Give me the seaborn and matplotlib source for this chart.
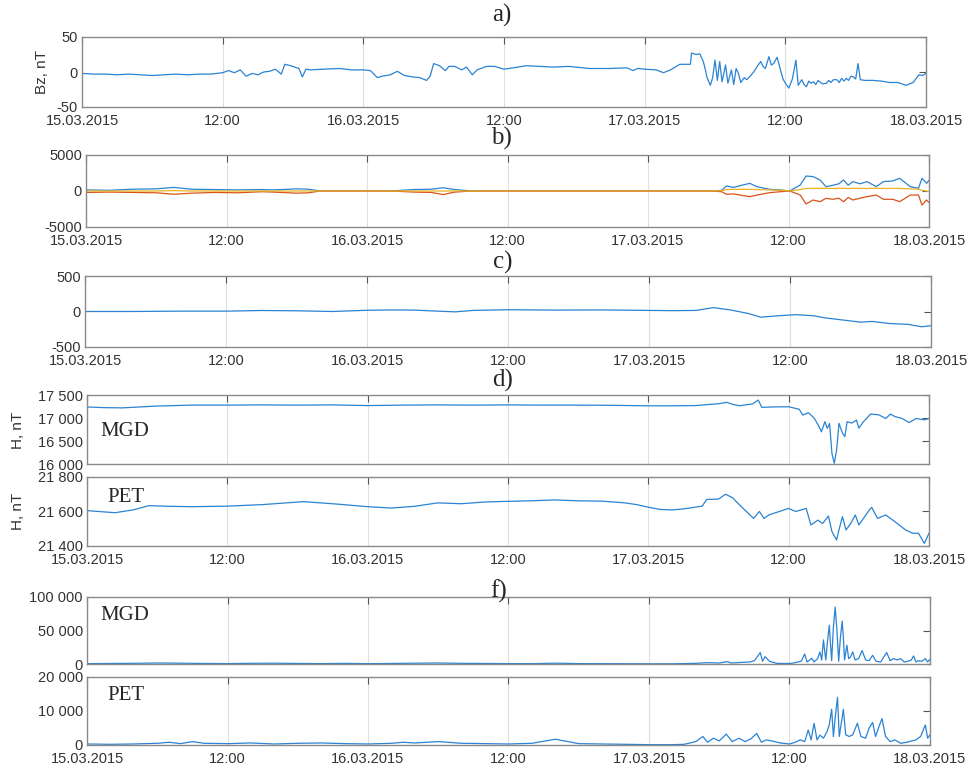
import numpy as np
import pandas as pd
import seaborn as sns
import matplotlib.pyplot as plt

# time axis: hours since 15.03.2015 00:00
tick_hours = [0, 12, 24, 36, 48, 60, 72]
tick_labels = ['15.03.2015', '12:00', '16.03.2015', '12:00', '17.03.2015', '12:00', '18.03.2015']

# a) Bz, nT
bz_hours = [0, 1, 2, 3, 4, 5, 6, 7, 8, 9,
            10, 11, 12, 12.5, 13, 13.5, 14, 14.5, 15, 15.5,
            16, 16.5, 17, 17.3, 17.8, 18.5, 18.8, 19.1, 19.5, 20.5,
            22, 23, 24, 24.6, 25.2, 25.6, 26.3, 26.9, 27.5, 28.2,
            28.8, 29.4, 29.7, 30.0, 30.5, 31.0, 31.3, 31.8, 32.4, 32.8,
            33.3, 33.7, 34.5, 35.2, 36, 36.8, 37.9, 39, 40.2, 41.5,
            43.3, 45, 46.5, 47, 47.4, 48, 49.0, 49.6, 50.2,
            51.0, 51.9, 52.0, 52.4, 52.7, 53.0, 53.2, 53.3, 53.6, 53.8,
            54.0, 54.2, 54.4, 54.6, 54.9, 55.1, 55.4, 55.6, 55.8, 56.0,
            56.2, 56.5, 56.7, 57.0, 57.3, 57.6, 57.9, 58.1, 58.3, 58.6,
            58.8, 59.0, 59.3, 59.5, 59.6, 59.8, 60.0, 60.3, 60.6, 60.9,
            61.1, 61.4, 61.6, 61.8, 62.0, 62.2, 62.4, 62.6, 62.8, 63.0,
            63.2, 63.5, 63.7, 63.9, 64.1, 64.4, 64.6, 64.8, 65.0, 65.2,
            65.4, 65.6, 65.8, 66.0, 66.2, 66.4, 66.8, 67.5, 68.2, 68.9,
            69.6, 70.3, 70.9, 71.4, 71.7, 72]
bz_values = [-2, -3, -3, -4, -3, -4, -5, -4, -3, -4,
             -3, -3, -1, 2, -1, 3, -6, -2, -4, 0,
             1, 4, -3, 11, 9, 5, -7, 4, 3, 4,
             5, 3, 3, 2, -8, -6, -4, 1, -5, -7,
             -8, -12, -6, 12, 9, 2, 8, 8, 3, 7,
             -4, 3, 8, 8, 4, 6, 9, 8, 7, 8,
             5, 5, 6, 2, 5, 4, 3, -1, 3,
             11, 11, 27, 25, 26, 15, 2, -7, -19, -8,
             17, -12, 15, -14, 10, -16, 3, -18, 5, -2,
             -15, -8, -11, -6, 0, 8, 15, 8, 5, 22,
             10, 12, 21, 8, 2, -10, -16, -23, -10, 17,
             -19, -11, -18, -21, -13, -16, -14, -18, -12, -15,
             -17, -16, -12, -15, -11, -11, -15, -9, -13, -9,
             -12, -6, -7, -10, 12, -11, -12, -12, -13, -15,
             -15, -19, -15, -4, -5, -2]

# b) three components
b_hours = [0, 2, 4, 6, 7.5, 9, 11, 13, 15, 16,
           18, 19, 20, 22, 24, 26, 28, 29.5, 30.5, 31.5,
           33, 36, 40, 44, 48, 50,
           52, 53.5, 54.3, 54.7, 55.3, 56.0, 56.7, 57.3, 58.4, 59.3,
           60.1, 61.0, 61.5, 62.1, 62.7, 63.2, 63.8, 64.3, 64.7, 65.1,
           65.5, 66.1, 66.7, 67.5, 68.1, 68.9, 69.5, 70.4, 71.1, 71.4,
           71.8, 72]
b_blue = [150, 100, 250, 300, 500, 250, 200, 150, 200, 150,
          300, 250, 0, 0, 0, 0, 200, 250, 450, 200,
          0, 0, 0, 0, 0, 0,
          0, 0, 100, 700, 500, 800, 1060, 600, 230, 150,
          0, 830, 2080, 2000, 1530, 600, 800, 1000, 1530, 800,
          1300, 1000, 1300, 600, 1300, 1400, 1760, 600, 370, 1760,
          1060, 1500]
b_red = [-200, -150, -200, -250, -450, -300, -200, -250, -100, -150,
         -300, -250, 0, 0, 0, 0, -150, -200, -500, -150,
         0, 0, 0, 0, 0, 0,
         0, 0, -100, -460, -400, -600, -790, -560, -230, -100,
         0, -560, -1800, -1250, -1480, -1020, -1150, -1000, -1480, -900,
         -1250, -1000, -790, -560, -1150, -1150, -1480, -560, -560, -1950,
         -1250, -1600]
b_yellow = [0, 0, 0, 0, 50, 0, 0, 0, 0, 0,
            0, 0, 0, 0, 0, 0, 0, 0, 0, 0,
            0, 0, 0, 0, 0, 0,
            0, 0, 50, 200, 230, 230, 230, 200, 150, 100,
            0, 200, 350, 370, 350, 370, 350, 380, 370, 350,
            370, 360, 350, 370, 350, 370, 360, 300, 250, 100,
            0, -100]

# c)
c_hours = [0, 4, 8, 12, 15, 18, 21, 24, 26, 28,
           30, 31.5, 33, 36, 40, 44, 48, 50, 52, 53.5,
           55, 56.5, 57.5, 59, 60.5, 62, 63, 64.5, 66, 67,
           68.5, 70, 71.2, 72]
c_values = [0, 0, 5, 5, 14, 10, 0, 17, 22, 20,
            5, -5, 15, 25, 20, 22, 15, 12, 15, 55,
            20, -30, -80, -60, -45, -60, -90, -120, -150, -140,
            -170, -180, -215, -200]

# d) H, nT at MGD and PET
mgd_h_hours = [0, 1.5, 3, 4.5, 6, 9, 12, 15, 18, 21,
               24, 27, 30, 33, 36, 39, 42, 45, 48, 50,
               52, 53, 54, 54.7, 55.3, 55.8, 56.9, 57.4, 57.7, 58.6,
               60.0, 60.9, 61.2, 61.7, 62.2, 62.6, 62.8, 63.1, 63.3, 63.5,
               63.7, 63.9, 64.1, 64.3, 64.6, 64.8, 65.0, 65.4, 65.8, 66.0,
               66.4, 67.0, 67.7, 68.3, 68.7, 69.1, 69.7, 70.3, 70.9, 71.6,
               72]
mgd_h_values = [17240, 17225, 17220, 17240, 17260, 17280, 17280, 17285, 17280, 17285,
                17270, 17280, 17285, 17280, 17285, 17280, 17280, 17275, 17265, 17265,
                17270, 17290, 17310, 17340, 17290, 17268, 17305, 17390, 17232, 17240,
                17245, 17190, 17065, 17115, 16990, 16810, 16700, 16920, 16775, 16880,
                16230, 16015, 16300, 16885, 16670, 16595, 16920, 16890, 16955, 16780,
                16920, 17085, 17070, 16990, 17085, 17030, 16990, 16900, 16990, 16960,
                16990]

pet_h_hours = [0, 1, 2.4, 4, 5.3, 7, 9, 12, 15, 18.5,
               21, 24, 26, 28, 30, 32, 34, 36, 38, 40,
               42, 44, 46, 47, 48, 49, 50, 51, 52, 52.6,
               53, 54, 54.6, 55.2, 55.8, 57.0, 57.5, 57.9, 58.3, 60.0,
               60.6, 61.5, 61.9, 62.5, 62.9, 63.4, 63.7, 64.1, 64.3, 64.6,
               64.9, 65.3, 65.7, 66.0, 66.9, 67.1, 67.6, 68.3, 69.1, 70.0,
               70.6, 71.1, 71.6, 72]
pet_h_values = [21605, 21600, 21593, 21610, 21634, 21630, 21628, 21631, 21640, 21657,
                21645, 21628, 21620, 21630, 21650, 21645, 21655, 21659, 21662, 21667,
                21662, 21660, 21650, 21640, 21625, 21612, 21609, 21615, 21625, 21631,
                21670, 21672, 21700, 21680, 21638, 21560, 21600, 21560, 21580, 21618,
                21600, 21618, 21522, 21550, 21530, 21574, 21483, 21435, 21493, 21570,
                21493, 21530, 21580, 21522, 21609, 21624, 21560, 21580, 21540, 21493,
                21474, 21474, 21415, 21474]

# f) MGD and PET
mgd_f_hours = [0, 2, 4, 6, 8, 10, 12, 14, 16, 18,
               20, 22, 24, 26, 28, 30, 32, 34, 36, 38,
               40, 42, 44, 46, 48, 50, 52, 53, 54, 54.7,
               55, 56, 56.6, 57.0, 57.3, 57.5, 57.7, 57.9, 58.3, 58.9,
               59.5, 60.2, 60.7, 61.0, 61.3, 61.5, 61.9, 62.1, 62.4, 62.6,
               62.75, 62.9, 63.0, 63.1, 63.25, 63.4, 63.5, 63.6, 63.75, 63.9,
               64.05, 64.2, 64.35, 64.5, 64.6, 64.7, 64.9, 65.05, 65.2, 65.4,
               65.6, 65.9, 66.2, 66.5, 66.8, 67.1, 67.4, 67.8, 68.0, 68.3,
               68.6, 68.9, 69.2, 69.5, 69.8, 70.1, 70.4, 70.6, 70.8, 71.0,
               71.3, 71.6, 71.8, 72]
mgd_f_values = [500, 800, 1000, 1500, 1200, 800, 600, 1000, 1200, 800,
                600, 900, 500, 800, 1200, 1500, 1000, 800, 600, 500,
                1200, 600, 500, 400, 300, 300, 1000, 2000, 1500, 3500,
                1500, 2500, 3000, 5000, 12000, 17000, 4000, 11000, 4000, 1000,
                800, 1000, 3000, 4000, 15000, 3000, 8500, 3000, 8000, 18000,
                6000, 36000, 20000, 6000, 35000, 58000, 30000, 5000, 55000, 85000,
                50000, 4000, 40000, 64000, 40000, 6000, 28000, 8000, 10000, 18000,
                6000, 8000, 20000, 6000, 5000, 13000, 4000, 3000, 9000, 17000,
                5000, 8000, 6000, 8000, 3000, 4000, 6000, 12000, 3000, 5000,
                4000, 8000, 3000, 7000]

pet_f_hours = [0, 2, 4, 6, 7, 8, 9, 10, 12, 14,
               16, 18, 20, 22, 24, 26, 27, 28, 30, 32,
               34, 36, 38, 40, 42, 44, 46, 48, 50, 51,
               52, 52.6, 53.0, 53.5, 54.0, 54.6, 55.1, 55.7, 56.2, 56.7,
               57.2, 57.6, 58.0, 58.5, 59.2, 60.0, 60.5, 60.9, 61.3, 61.6,
               61.85, 62.1, 62.35, 62.6, 62.9, 63.2, 63.4, 63.6, 63.75, 63.9,
               64.1, 64.25, 64.45, 64.6, 64.8, 65.1, 65.4, 65.8, 66.1, 66.5,
               66.8, 67.1, 67.35, 67.6, 67.9, 68.2, 68.6, 69.0, 69.5, 70.0,
               70.8, 71.2, 71.6, 71.8, 72]
pet_f_values = [300, 200, 300, 500, 800, 400, 1000, 500, 400, 600,
                300, 500, 600, 400, 300, 500, 800, 600, 1000, 500,
                400, 300, 500, 1700, 400, 300, 200, 100, 100, 200,
                1000, 2500, 800, 2000, 1200, 3200, 1000, 2000, 1000, 1800,
                3400, 800, 1500, 1200, 600, 300, 800, 1500, 1000, 4400,
                1500, 6400, 1500, 2900, 2000, 3900, 6000, 10500, 2500, 8000,
                14000, 2500, 7000, 10500, 3000, 2500, 3000, 6400, 2500, 2000,
                5000, 6600, 2500, 5000, 7800, 2500, 1000, 1500, 500, 800,
                1500, 2500, 5900, 2000, 3000]

sns.set_style('white')
plt.rcParams['font.family'] = ['Liberation Sans', 'DejaVu Sans']

BLUE = '#2b83d3'
W, H = 972, 767

fig = plt.figure(figsize=(W / 100, H / 100), dpi=100)


def add_axes(left, right, top, bottom):
    return fig.add_axes([left / W, 1 - bottom / H, (right - left) / W, (bottom - top) / H])


def style(ax, ylim, yticks, ylabels, xlabels=True):
    ax.set_xlim(0, 72)
    ax.set_ylim(*ylim)
    ax.set_xticks(tick_hours)
    ax.set_xticklabels(tick_labels if xlabels else [])
    ax.set_yticks(yticks)
    ax.set_yticklabels(ylabels)
    ax.tick_params(direction='in', top=True, right=True, length=5, width=0.8,
                   color='#555555', labelsize=10.5, labelcolor='#333333')
    ax.tick_params(axis='x', pad=5)
    ax.tick_params(axis='y', pad=3)
    ax.grid(axis='x', color='#e0e0e0', lw=0.8)
    for s in ax.spines.values():
        s.set_color('#8a8a8a')
        s.set_linewidth(1.0)
    ax.set_xlabel('')
    ax.set_ylabel('')


def panel_title(x, y, s):
    fig.text(x / W, 1 - y / H, s, ha='center', va='center',
             family=['Liberation Serif', 'DejaVu Serif'], fontsize=18)


def station(s, x, y):
    fig.text(x / W, 1 - y / H, s, ha='left', va='center',
             family=['Liberation Serif', 'DejaVu Serif'], fontsize=15)


def ylabel(s, x, y):
    fig.text(x / W, 1 - y / H, s, rotation=90, ha='center', va='center',
             fontsize=11, color='#333333')


# a)
ax_a = add_axes(82, 926, 37, 107)
sns.lineplot(x=bz_hours, y=bz_values, ax=ax_a, color=BLUE, lw=0.9)
style(ax_a, (-50, 50), [-50, 0, 50], ['-50', '0', '50'])
ylabel('Bz, nT', 42, 72)
panel_title(502, 15, 'a)')

# b)
ax_b = add_axes(86, 929, 155, 227)
b_df = pd.DataFrame({
    'hour': b_hours * 3,
    'value': b_blue + b_red + b_yellow,
    'comp': ['x'] * len(b_hours) + ['y'] * len(b_hours) + ['z'] * len(b_hours),
})
sns.lineplot(data=b_df, x='hour', y='value', hue='comp', ax=ax_b, lw=0.9,
             palette=['#2b83d3', '#D95319', '#EDB120'], legend=False)
style(ax_b, (-5000, 5000), [-5000, 0, 5000], ['-5000', '0', '5000'])
panel_title(501, 138, 'b)')

# c)
ax_c = add_axes(85, 931, 276, 347)
sns.lineplot(x=c_hours, y=c_values, ax=ax_c, color=BLUE, lw=0.9)
style(ax_c, (-500, 500), [-500, 0, 500], ['-500', '0', '500'])
panel_title(503, 262, 'c)')

# d)
ax_d1 = add_axes(87, 929, 395, 464)
sns.lineplot(x=mgd_h_hours, y=mgd_h_values, ax=ax_d1, color=BLUE, lw=0.9)
style(ax_d1, (16000, 17500), [16000, 16500, 17000, 17500],
      ['16 000', '16 500', '17 000', '17 500'], xlabels=False)
ax_d2 = add_axes(87, 929, 477, 546)
sns.lineplot(x=pet_h_hours, y=pet_h_values, ax=ax_d2, color=BLUE, lw=0.9)
style(ax_d2, (21400, 21800), [21400, 21600, 21800], ['21 400', '21 600', '21 800'])
ylabel('H, nT', 18, 430)
ylabel('H, nT', 18, 511)
station('MGD', 100, 432)
station('PET', 107, 497)
panel_title(503, 380, 'd)')

# f)
ax_f1 = add_axes(87, 930, 597, 664)
sns.lineplot(x=mgd_f_hours, y=mgd_f_values, ax=ax_f1, color=BLUE, lw=0.9)
style(ax_f1, (0, 100000), [0, 50000, 100000], ['0', '50 000', '100 000'], xlabels=False)
ax_f2 = add_axes(87, 930, 677, 745)
sns.lineplot(x=pet_f_hours, y=pet_f_values, ax=ax_f2, color=BLUE, lw=0.9)
style(ax_f2, (0, 20000), [0, 10000, 20000], ['0', '10 000', '20 000'])
station('MGD', 100, 615)
station('PET', 107, 695)
panel_title(499, 591, 'f)')

fig.savefig('out.png', dpi=100, facecolor='white')
